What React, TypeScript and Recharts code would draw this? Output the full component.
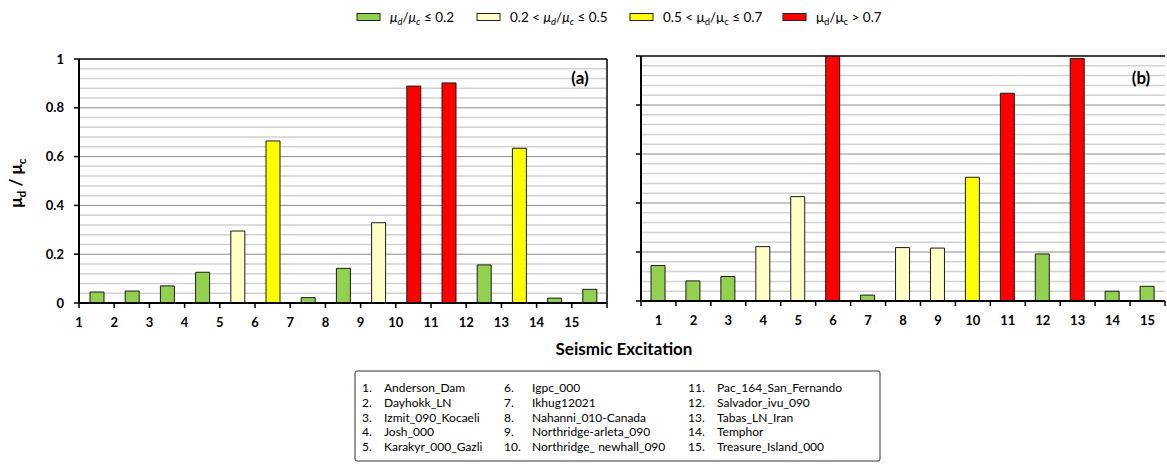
import React from 'react';
import { BarChart, Bar, XAxis, YAxis, CartesianGrid, Cell, ReferenceLine } from 'recharts';

const excitations = ['1', '2', '3', '4', '5', '6', '7', '8', '9', '10', '11', '12', '13', '14', '15'];
const valuesA = [0.045, 0.049, 0.07, 0.126, 0.295, 0.664, 0.022, 0.142, 0.329, 0.889, 0.902, 0.156, 0.634, 0.02, 0.056];
const valuesB = [0.145, 0.082, 0.1, 0.222, 0.426, 1.05, 0.024, 0.218, 0.216, 0.505, 0.848, 0.192, 0.99, 0.04, 0.06];
const yTicks = [0, 0.2, 0.4, 0.6, 0.8, 1];
const majorGrid = [0.2, 0.4, 0.6, 0.8];
const minorGrid = [0.04, 0.08, 0.12, 0.16, 0.24, 0.28, 0.32, 0.36, 0.44, 0.48, 0.52, 0.56, 0.64, 0.68, 0.72, 0.76, 0.84, 0.88, 0.92, 0.96];
const classBounds = [0.2, 0.5, 0.7];
const classColors = ['#92D050', '#FFFFC5', '#FFFF00', '#FF0000'];
const recordNames = [
  'Anderson_Dam', 'Dayhokk_LN', 'Izmit_090_Kocaeli', 'Josh_000', 'Karakyr_000_Gazli',
  'Igpc_000', 'Ikhug12021', 'Nahanni_010-Canada', 'Northridge-arleta_090', 'Northridge_ newhall_090',
  'Pac_164_San_Fernando', 'Salvador_ivu_090', 'Tabas_LN_Iran', 'Temphor', 'Treasure_Island_000',
];

const FONT = 'Lato, "Open Sans", sans-serif';

const colorFor = (v: number) => {
  let k = 0;
  while (k < classBounds.length && v > classBounds[k]) k++;
  return classColors[k];
};

const dataA = excitations.map((id, i) => ({ id, v: valuesA[i] }));
const dataB = excitations.map((id, i) => ({ id, v: valuesB[i] }));

// chart geometry
const A_W = 620, A_H = 340, A_MT = 59, A_MR = 13, A_YW = 79, A_XH = 30, A_MB = 7;
const B_W = 567, B_H = 340, B_MT = 56, B_MR = 2, B_YW = 41, B_XH = 30, B_MB = 9;
const A_BW = (A_W - A_MR - A_YW) / excitations.length;
const B_BW = (B_W - B_MR - B_YW) / excitations.length;

const gridGen = (values: number[]) => (props: any) => {
  const yAxis = props && props.yAxis;
  const s = yAxis && yAxis.scale;
  if (typeof s === 'function') return values.map((v) => s(v));
  if (s && typeof s.map === 'function') return values.map((v) => s.map(v));
  const off = props.offset;
  return values.map((v) => off.top + (1 - v) * off.height);
};

const rightEdgeGen = (props: any) => {
  const off = props.offset;
  return [off.left + off.width];
};

function XTick(props: any) {
  const { x, y, payload, index, bw, centered } = props;
  const left = x - bw / 2;
  const lx = centered ? x : left;
  return (
    <g>
      <line x1={left} y1={y} x2={left} y2={y + 5} stroke="#000" strokeWidth={1.5} />
      {index === excitations.length - 1 && (
        <line x1={x + bw / 2} y1={y} x2={x + bw / 2} y2={y + 5} stroke="#000" strokeWidth={1.5} />
      )}
      <text x={lx} y={y + 24} textAnchor="middle" fontWeight="bold" fontSize={13} fill="#000" fontFamily={FONT}>
        {payload.value}
      </text>
    </g>
  );
}

function Panel(props: { data: any[]; w: number; h: number; mt: number; mr: number; mb: number; yw: number; xh: number; bw: number; centered: boolean; showYLabels: boolean; rightBorder: boolean }) {
  const { data, w, h, mt, mr, mb, yw, xh, bw, centered, showYLabels, rightBorder } = props;
  return (
    <BarChart width={w} height={h} data={data} margin={{ top: mt, right: mr, bottom: mb, left: 0 }} barCategoryGap={0}>
      <CartesianGrid vertical={false} horizontalCoordinatesGenerator={gridGen(minorGrid)} stroke="#d2d2d2" strokeWidth={1.5} />
      <CartesianGrid vertical={false} horizontalCoordinatesGenerator={gridGen(majorGrid)} stroke="#8c8c8c" strokeWidth={1} />
      {rightBorder && (
        <CartesianGrid horizontal={false} verticalCoordinatesGenerator={rightEdgeGen} stroke="#000" strokeWidth={1.5} />
      )}
      <XAxis
        dataKey="id"
        interval={0}
        tickLine={false}
        tickSize={0}
        tickMargin={0}
        height={xh}
        axisLine={{ stroke: '#000', strokeWidth: 2 }}
        tick={<XTick bw={bw} centered={centered} />}
      />
      <YAxis
        domain={[0, 1]}
        ticks={yTicks}
        width={yw}
        allowDataOverflow
        tickSize={5}
        tickMargin={10}
        axisLine={{ stroke: '#000', strokeWidth: 2 }}
        tickLine={{ stroke: '#000', strokeWidth: 1.5 }}
        tickFormatter={showYLabels ? undefined : () => ''}
        tick={{ fontWeight: 'bold', fontSize: 13, fill: '#000', fontFamily: FONT }}
      />
      <Bar dataKey="v" barSize={14} stroke="#1a1a1a" strokeWidth={1} isAnimationActive={false}>
        {data.map((d, i) => (
          <Cell key={i} fill={colorFor(d.v)} />
        ))}
      </Bar>
      <ReferenceLine y={1} stroke="#000" strokeWidth={1.5} />
    </BarChart>
  );
}

const legendItems = [
  { x: 357, italic: true, pre: '', post: '≤ 0.2' },
  { x: 477, italic: true, pre: '0.2 < ', post: '≤ 0.5' },
  { x: 630, italic: false, pre: '0.5 < ', post: '≤ 0.7' },
  { x: 783, italic: false, pre: '', post: '> 0.7' },
];

function Ratio({ italic, size }: { italic: boolean; size: number }) {
  const st = italic ? 'italic' : 'normal';
  const s = size * 0.7;
  return (
    <>
      <tspan fontStyle={st}>μ</tspan>
      <tspan fontStyle={st} fontSize={s} dy={size * 0.25}>d</tspan>
      <tspan dy={-size * 0.25}>/</tspan>
      <tspan fontStyle={st}>μ</tspan>
      <tspan fontStyle={st} fontSize={s} dy={size * 0.25}>c</tspan>
      <tspan dy={-size * 0.25}> </tspan>
    </>
  );
}

export default function App() {
  return (
    <div style={{ position: 'absolute', left: 0, top: 0, width: 1167, height: 472, background: '#fff', fontFamily: FONT }}>
      <div style={{ position: 'absolute', left: 0, top: 0 }}>
        <Panel data={dataA} w={A_W} h={A_H} mt={A_MT} mr={A_MR} mb={A_MB} yw={A_YW} xh={A_XH} bw={A_BW} centered={false} showYLabels={true} rightBorder={true} />
      </div>
      <div style={{ position: 'absolute', left: 600, top: 0 }}>
        <Panel data={dataB} w={B_W} h={B_H} mt={B_MT} mr={B_MR} mb={B_MB} yw={B_YW} xh={B_XH} bw={B_BW} centered={true} showYLabels={false} rightBorder={false} />
      </div>
      <svg width={1167} height={472} style={{ position: 'absolute', left: 0, top: 0, pointerEvents: 'none' }} fontFamily={FONT}>
        {legendItems.map((it, i) => (
          <g key={i}>
            <rect x={it.x} y={13.5} width={23} height={7} fill={classColors[i]} stroke="#222" strokeWidth={1} />
            <text x={it.x + 33} y={21.5} fontSize={13.5} fill="#000">
              {it.pre}
              <Ratio italic={it.italic} size={13.5} />
              {it.post}
            </text>
          </g>
        ))}
        <text transform="translate(22,183) rotate(-90)" textAnchor="middle" fontSize={17} fontWeight="bold" fill="#000">
          <tspan>μ</tspan>
          <tspan fontSize={12} dy={4}>d</tspan>
          <tspan dy={-4}> / μ</tspan>
          <tspan fontSize={12} dy={4}>c</tspan>
        </text>
        <text x={580} y={84} textAnchor="middle" fontSize={17} fontWeight="bold" fill="#000">(a)</text>
        <text x={1141} y={84} textAnchor="middle" fontSize={17} fontWeight="bold" fill="#000">(b)</text>
        <text x={624} y={355} textAnchor="middle" fontSize={17} fontWeight="bold" fill="#000">Seismic Excitation</text>
        <rect x={355} y={371} width={525} height={90} fill="#fff" stroke="#333" strokeWidth={1} rx={2} />
        {recordNames.map((name, i) => {
          const col = Math.floor(i / 5);
          const row = i % 5;
          const nx = [362, 504, 688][col];
          const tx = [384, 532, 717][col];
          const y = 392 + row * 14.8;
          return (
            <g key={i}>
              <text x={nx} y={y} fontSize={12} fill="#000">{`${i + 1}.`}</text>
              <text x={tx} y={y} fontSize={12} fill="#000">{name}</text>
            </g>
          );
        })}
      </svg>
    </div>
  );
}
